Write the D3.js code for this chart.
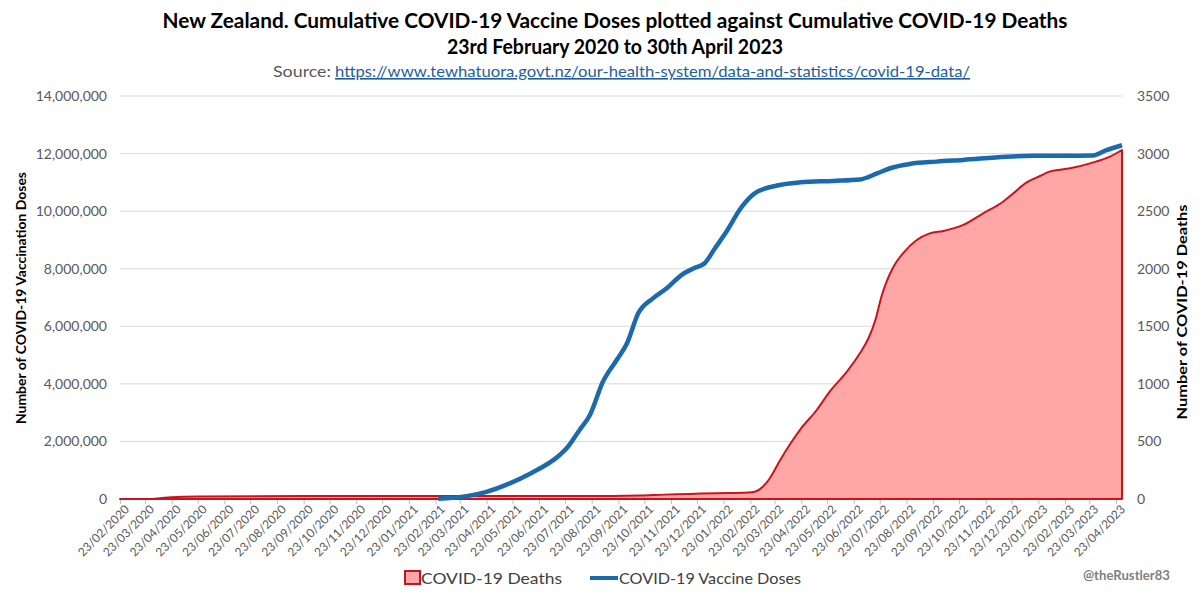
<!DOCTYPE html>
<html><head><meta charset="utf-8">
<script src="https://cdn.jsdelivr.net/npm/d3@7"></script>
<style>body{margin:0;background:#fff}svg{display:block}</style>
</head><body>
<svg id="c" width="1200" height="595"></svg>
<script>
// ---- DATA ----
const xTickLabels = ["23/02/2020","23/03/2020","23/04/2020","23/05/2020","23/06/2020","23/07/2020","23/08/2020","23/09/2020","23/10/2020","23/11/2020","23/12/2020","23/01/2021","23/02/2021","23/03/2021","23/04/2021","23/05/2021","23/06/2021","23/07/2021","23/08/2021","23/09/2021","23/10/2021","23/11/2021","23/12/2021","23/01/2022","23/02/2022","23/03/2022","23/04/2022","23/05/2022","23/06/2022","23/07/2022","23/08/2022","23/09/2022","23/10/2022","23/11/2022","23/12/2022","23/01/2023","23/02/2023","23/03/2023","23/04/2023"];
const leftTicks = [0,2000000,4000000,6000000,8000000,10000000,12000000,14000000];
const rightTicks = [0,500,1000,1500,2000,2500,3000,3500];

const doseDates = ["2021-02-26","2021-03-31","2021-04-23","2021-05-20","2021-06-12","2021-07-17","2021-07-25","2021-08-09","2021-08-21","2021-09-05","2021-09-21","2021-10-03","2021-10-16","2021-11-02","2021-11-18","2021-12-05","2021-12-19","2022-01-01","2022-01-13","2022-01-25","2022-02-13","2022-02-28","2022-03-26","2022-04-22","2022-05-30","2022-06-30","2022-07-20","2022-08-04","2022-08-27","2022-09-27","2022-10-28","2022-12-17","2023-01-17","2023-03-26","2023-04-12","2023-04-30"];
const doseValues = [5000,100000,250000,545000,870000,1530000,1760000,2400000,2920000,4070000,4830000,5410000,6450000,6970000,7320000,7780000,8010000,8190000,8710000,9230000,10150000,10620000,10890000,11000000,11050000,11100000,11310000,11490000,11640000,11720000,11780000,11890000,11920000,11930000,12120000,12290000];

const deathDates = ["2020-02-23","2020-03-28","2020-04-23","2020-05-23","2020-09-23","2021-02-23","2021-09-15","2021-10-18","2021-11-15","2021-12-15","2022-01-15","2022-02-15","2022-02-28","2022-03-10","2022-03-18","2022-03-29","2022-04-10","2022-04-22","2022-05-11","2022-05-26","2022-06-15","2022-06-30","2022-07-10","2022-07-18","2022-07-25","2022-07-31","2022-08-08","2022-08-19","2022-09-04","2022-09-19","2022-10-05","2022-10-28","2022-11-20","2022-12-13","2022-12-25","2023-01-09","2023-01-25","2023-02-05","2023-03-01","2023-03-24","2023-04-16","2023-04-30"];
const deathValues = [0,0,16,21,25,26,27,30,38,44,51,54,63,110,185,330,475,605,773,932,1106,1265,1396,1555,1757,1887,2017,2134,2249,2307,2328,2380,2481,2582,2655,2747,2805,2843,2872,2915,2973,3031];

// ---- CHART ----
const svg = d3.select("#c");
const F = "Lato, 'Open Sans', sans-serif";
const pDate = d3.timeParse("%Y-%m-%d");
const pTick = d3.timeParse("%d/%m/%Y");
const L = 120, R = 1122, T = 96, B = 499;

const x = d3.scaleTime().domain([pDate("2020-02-23"), pDate("2023-04-30")]).range([L, R]);
const yL = d3.scaleLinear().domain([0, 14000000]).range([B, T]);
const yR = d3.scaleLinear().domain([0, 3500]).range([B, T]);

// gridlines
svg.append("g").selectAll("line").data(leftTicks.slice(1)).join("line")
  .attr("x1", L).attr("x2", R).attr("y1", d => yL(d)).attr("y2", d => yL(d))
  .attr("stroke", "#D9D9D9").attr("stroke-width", 1);

// left axis
const gl = svg.append("g").attr("transform", `translate(${L},0)`)
  .call(d3.axisLeft(yL).tickValues(leftTicks).tickSize(0).tickPadding(13).tickFormat(d3.format(",")));
gl.select(".domain").remove();
gl.selectAll("text").attr("font-family", F).attr("font-size", 14).attr("fill", "#595959");

// right axis
const gr = svg.append("g").attr("transform", `translate(${R},0)`)
  .call(d3.axisRight(yR).tickValues(rightTicks).tickSize(0).tickPadding(15).tickFormat(d3.format("d")));
gr.select(".domain").remove();
gr.selectAll("text").attr("font-family", F).attr("font-size", 14).attr("fill", "#595959");

// x axis
const tickDates = xTickLabels.map(pTick);
const gx = svg.append("g").attr("transform", `translate(0,${B})`)
  .call(d3.axisBottom(x).tickValues(tickDates).tickSize(5).tickPadding(3).tickFormat(d3.timeFormat("%d/%m/%Y")));
gx.select(".domain").attr("stroke", "#BFBFBF").attr("d", `M${L},0H${R}`);
gx.selectAll(".tick line").attr("stroke", "#BFBFBF");
gx.selectAll("text").attr("font-family", F).attr("font-size", 12).attr("fill", "#595959")
  .attr("text-anchor", "end").attr("dx", "-0.1em").attr("dy", "0.55em")
  .attr("transform", "rotate(-45)");

// deaths area
const deaths = deathDates.map((d, i) => ({ d: pDate(d), v: deathValues[i] }));
const area = d3.area().x(p => x(p.d)).y0(B).y1(p => yR(p.v)).curve(d3.curveMonotoneX);
svg.append("path").datum(deaths).attr("d", area)
  .attr("fill", "#FFA6A6").attr("stroke", "#C8141C").attr("stroke-width", 2).attr("stroke-linejoin", "round");

// doses line
const doses = doseDates.map((d, i) => ({ d: pDate(d), v: doseValues[i] }));
const line = d3.line().x(p => x(p.d)).y(p => yL(p.v)).curve(d3.curveMonotoneX);
svg.append("path").datum(doses).attr("d", line)
  .attr("fill", "none").attr("stroke", "#1C6AAE").attr("stroke-width", 4.5).attr("stroke-linejoin", "round");

// titles
svg.append("text").attr("x", 615).attr("y", 28).attr("text-anchor", "middle")
  .attr("font-family", F).attr("font-weight", "bold").attr("font-size", 20).attr("fill", "#000")
  .attr("textLength", 905).attr("lengthAdjust", "spacingAndGlyphs")
  .text("New Zealand. Cumulative COVID-19 Vaccine Doses plotted against Cumulative COVID-19 Deaths");
svg.append("text").attr("x", 615).attr("y", 54).attr("text-anchor", "middle")
  .attr("font-family", F).attr("font-weight", "bold").attr("font-size", 20).attr("fill", "#000")
  .attr("textLength", 336).attr("lengthAdjust", "spacingAndGlyphs")
  .text("23rd February 2020 to 30th April 2023");
svg.append("text").attr("x", 273).attr("y", 77)
  .attr("font-family", F).attr("font-size", 16).attr("fill", "#595959")
  .attr("textLength", 58).attr("lengthAdjust", "spacingAndGlyphs").text("Source:");
svg.append("text").attr("x", 335).attr("y", 77)
  .attr("font-family", F).attr("font-size", 16).attr("fill", "#1F5E9E").attr("text-decoration", "underline")
  .attr("textLength", 635).attr("lengthAdjust", "spacingAndGlyphs")
  .text("https://www.tewhatuora.govt.nz/our-health-system/data-and-statistics/covid-19-data/");

// axis titles
svg.append("text").attr("transform", "translate(26,298) rotate(-90)").attr("text-anchor", "middle")
  .attr("font-family", F).attr("font-weight", "bold").attr("font-size", 14).attr("fill", "#000")
  .attr("textLength", 252).attr("lengthAdjust", "spacingAndGlyphs")
  .text("Number of COVID-19 Vaccination Doses");
svg.append("text").attr("transform", "translate(1187,312) rotate(-90)").attr("text-anchor", "middle")
  .attr("font-family", F).attr("font-weight", "bold").attr("font-size", 14).attr("fill", "#000")
  .attr("textLength", 215).attr("lengthAdjust", "spacingAndGlyphs")
  .text("Number of COVID-19 Deaths");

// legend
svg.append("rect").attr("x", 405).attr("y", 571).attr("width", 15).attr("height", 13)
  .attr("fill", "#FFA6A6").attr("stroke", "#C8141C").attr("stroke-width", 2);
svg.append("text").attr("x", 421).attr("y", 584).attr("font-family", F).attr("font-size", 16)
  .attr("fill", "#404040").attr("textLength", 141).attr("lengthAdjust", "spacingAndGlyphs").text("COVID-19 Deaths");
svg.append("line").attr("x1", 590).attr("x2", 618).attr("y1", 578).attr("y2", 578)
  .attr("stroke", "#1C6AAE").attr("stroke-width", 4);
svg.append("text").attr("x", 619).attr("y", 584).attr("font-family", F).attr("font-size", 16)
  .attr("fill", "#404040").attr("textLength", 182).attr("lengthAdjust", "spacingAndGlyphs").text("COVID-19 Vaccine Doses");
svg.append("text").attr("x", 1083).attr("y", 580).attr("font-family", F).attr("font-size", 13).attr("font-weight", "bold")
  .attr("fill", "#7F7F7F").attr("textLength", 87).attr("lengthAdjust", "spacingAndGlyphs").text("@theRustler83");
</script>
</body></html>
